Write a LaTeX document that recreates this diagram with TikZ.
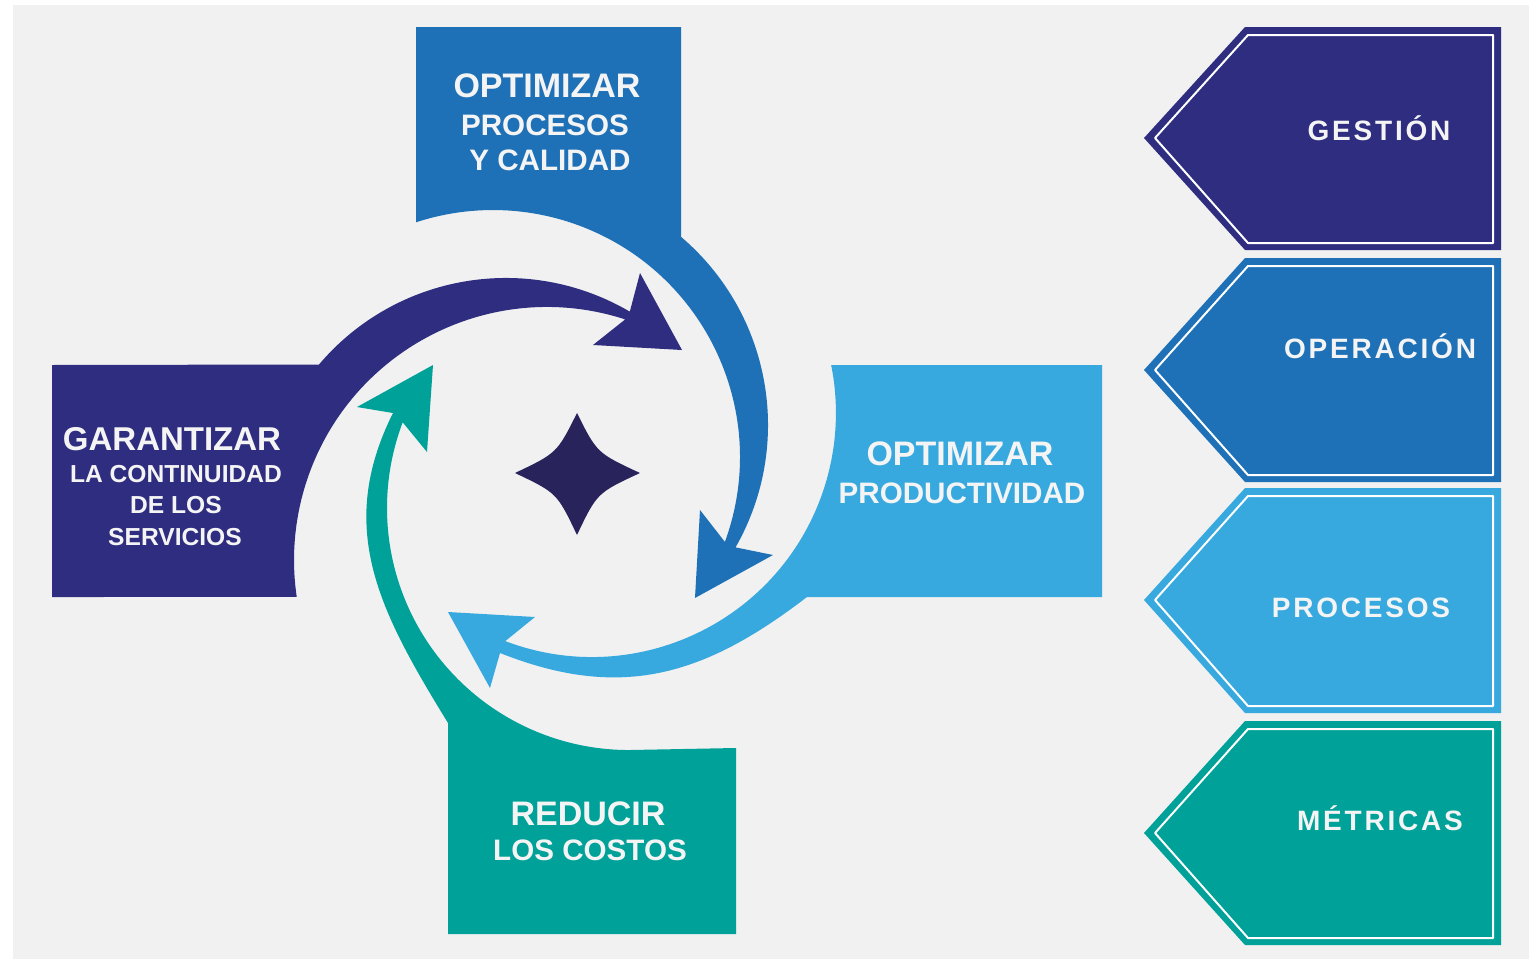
\documentclass[tikz,border=0pt]{standalone}
\usepackage{fontspec}
\setmainfont{Liberation Sans}
\newfontfamily\tagfont[LetterSpace=10]{Liberation Sans}
\usetikzlibrary{positioning}
\definecolor{navy}{HTML}{2E2D80}
\definecolor{midblue}{HTML}{1F71B7}
\definecolor{skyblue}{HTML}{38A9DF}
\definecolor{sea}{HTML}{00A199}
\definecolor{starc}{HTML}{29235C}
\definecolor{panel}{HTML}{F1F1F1}
\definecolor{ink}{HTML}{F4F4F4}
\tikzset{
  head/.style={anchor=base, inner sep=0pt, text=ink, font=\bfseries\fontsize{17}{20}\selectfont},
  sub/.style={anchor=base, inner sep=0pt, text=ink, font=\bfseries\fontsize{14.8}{18}\selectfont},
  small/.style={anchor=base, inner sep=0pt, text=ink, font=\bfseries\fontsize{12.3}{15}\selectfont},
  tagtext/.style={anchor=base, inner sep=0pt, text=ink, font=\tagfont\bfseries\fontsize{14}{17}\selectfont},
  tagline/.style={draw=white, line width=1pt}
}

\begin{document}
\begin{tikzpicture}[x=0.5pt, y=-0.5pt, line join=round]
    % page and grey panel
    \useasboundingbox (0,0) rectangle (1539,959);
    \fill[white] (0,0) rectangle (1539,959);
    \fill[panel] (13,5) rectangle (1529,959);

    % navy arrow: left box up to the top
    \fill[navy] (52,597) -- (52,365) -- (319,364.5)
        arc[start angle=220.3, end angle=300.4, radius=245]
        -- (640,273) -- (682,350) -- (593,345)
        -- (625.2,319.4) arc[start angle=288, end angle=171.6, radius=253]
        -- cycle;

    % mid blue arrow: top box down the right side
    \fill[midblue] (416,222) -- (416,27) -- (681,27) -- (681.1,236.9)
        arc[start angle=310.4, end angle=389.7, radius=247]
        -- (773,555) -- (695,598) -- (700,510)
        -- (724.9,541.9) arc[start angle=380.1, end angle=251.8, radius=247]
        -- cycle;

    % sky blue arrow: right box round the bottom
    \fill[skyblue] (832,365) -- (1102,365) -- (1102,597) -- (807,597)
        .. controls (704,676) and (621,701) .. (500,653)
        -- (490,688) -- (448,612) -- (535,617)
        -- (505.3,641.1) arc[start angle=110.8, end angle=-11.3, radius=244]
        -- cycle;

    % teal arrow: bottom box up the left side
    \fill[sea] (736,934) -- (448,934) -- (448,723)
        .. controls (380,612) and (335,529) .. (393,413)
        -- (357,407) -- (433,365) -- (427,452)
        -- (402.7,422.3) arc[start angle=200.75, end angle=90, radius=242]
        -- (736,748) -- cycle;

    % star in the middle
    \fill[starc] (577,413) .. controls (597,453) .. (640,473) .. controls (597,493) .. (577,535)
        .. controls (557,493) .. (515,473) .. controls (557,453) .. (577,413) -- cycle;

    % box texts
    \node[head] (optA) at (547,97) {OPTIMIZAR};
    \node[sub] (optB) at (545,135) {PROCESOS};
    \node[sub] (optC) at (550,170) {Y CALIDAD};

    \node[head] (prodA) at (960,465) {OPTIMIZAR};
    \node[sub] (prodB) at (962,503) {PRODUCTIVIDAD};

    \node[head, font=\bfseries\fontsize{16.5}{20}\selectfont] (garA) at (172,450) {GARANTIZAR};
    \node[small] (garB) at (176,482) {LA CONTINUIDAD};
    \node[small] (garC) at (176,513) {DE LOS};
    \node[small] (garD) at (175,545) {SERVICIOS};

    \node[head] (redA) at (588,825) {REDUCIR};
    \node[sub] (redB) at (590,860) {LOS COSTOS};

    % tags on the right
    \fill[navy] (1144,138) -- (1245,27) -- (1501,27) -- (1501,250) -- (1245,250) -- cycle;
    \draw[tagline] (1155,138) -- (1248,35) -- (1493,35) -- (1493,243) -- (1248,243) -- cycle;
    \node[tagtext] (gestion) at (1379,140) {GESTIÓN};

    \fill[midblue] (1144,370) -- (1245,258) -- (1501,258) -- (1501,482) -- (1245,482) -- cycle;
    \draw[tagline] (1155,370) -- (1248,266) -- (1493,266) -- (1493,475) -- (1248,475) -- cycle;
    \node[tagtext] (operacion) at (1380,358) {OPERACIÓN};

    \fill[skyblue] (1144,600) -- (1245,488) -- (1501,488) -- (1501,713) -- (1245,713) -- cycle;
    \draw[tagline] (1155,600) -- (1248,496) -- (1493,496) -- (1493,706) -- (1248,706) -- cycle;
    \node[tagtext] (procesos) at (1361,617) {PROCESOS};

    \fill[sea] (1144,833) -- (1245,721) -- (1501,721) -- (1501,945) -- (1245,945) -- cycle;
    \draw[tagline] (1155,833) -- (1248,729) -- (1493,729) -- (1493,938) -- (1248,938) -- cycle;
    \node[tagtext] (metricas) at (1380,830) {MÉTRICAS};
\end{tikzpicture}
\end{document}
